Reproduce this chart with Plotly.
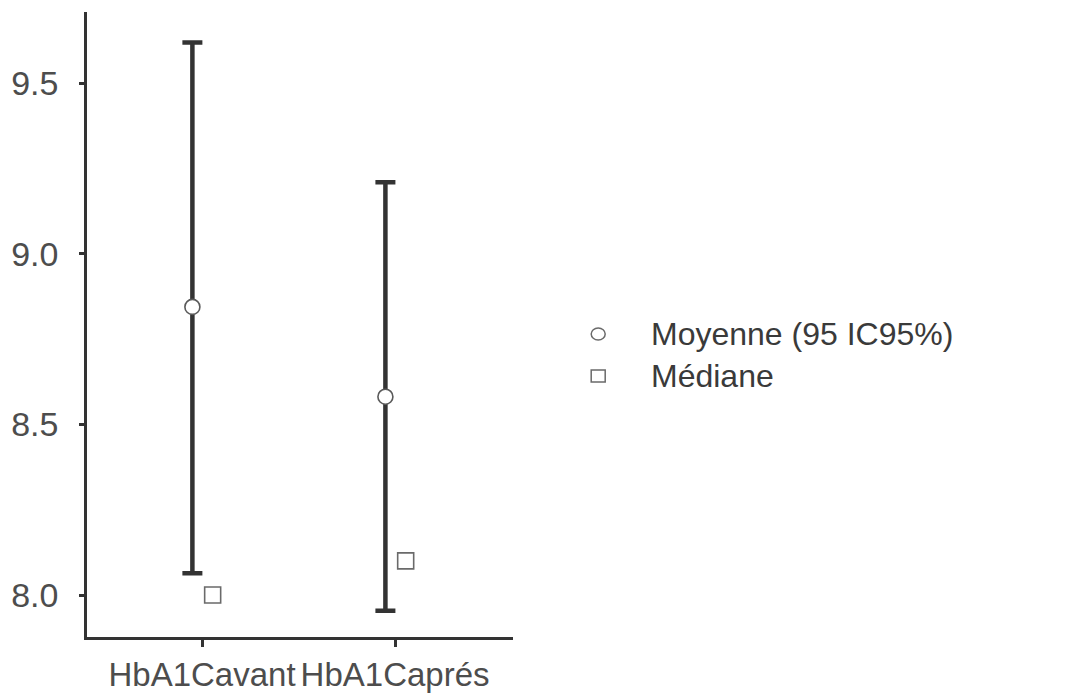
import plotly.graph_objects as go

# HbA1c before / after: mean with 95% CI, and median
categories = ["HbA1Cavant", "HbA1Caprés"]
mean_values = [8.844, 8.581]
ci_upper = [9.619, 9.209]
ci_lower = [8.064, 7.954]
median_values = [8.0, 8.1]
legend_labels = ["Moyenne (95 IC95%)", "Médiane"]
y_ticks = [8.0, 8.5, 9.0, 9.5]

cat_pos = [i + 1 for i in range(len(categories))]
mean_x = [p - 0.05 for p in cat_pos]
median_x = [p + 0.055 for p in cat_pos]

font_family = "Liberation Sans, Arial, sans-serif"
axis_col = "#333333"
text_col = "#4d4d4d"

fig = go.Figure()

fig.add_trace(go.Scatter(
    x=mean_x, y=mean_values, mode="markers", name=legend_labels[0],
    error_y=dict(type="data", symmetric=False,
                 array=[u - m for u, m in zip(ci_upper, mean_values)],
                 arrayminus=[m - l for m, l in zip(mean_values, ci_lower)],
                 color="#333333", thickness=4.5, width=10),
    marker=dict(symbol="circle", size=15, color="white",
                line=dict(color="#5a5a5a", width=1.6)),
    showlegend=False,
))

fig.add_trace(go.Scatter(
    x=median_x, y=median_values, mode="markers", name=legend_labels[1],
    marker=dict(symbol="square", size=16, color="white",
                line=dict(color="#6a6a6a", width=1.6)),
    showlegend=False,
))

# Legend drawn as symbols + text to the right of the plot area
legend_rows = [0.4848, 0.4176]
legend_symbols = ["circle", "rect"]
for label, yy, sym in zip(legend_labels, legend_rows, legend_symbols):
    fig.add_annotation(
        x=1.32, y=yy, xref="paper", yref="paper", xanchor="left",
        yanchor="middle", text=label, showarrow=False,
        font=dict(family=font_family, size=32, color="#3a3a3a"),
    )
    fig.add_shape(
        type=sym, xref="paper", yref="paper",
        xsizemode="pixel", ysizemode="pixel",
        xanchor=1.20, yanchor=yy,
        x0=-7, x1=7, y0=-6, y1=6,
        line=dict(color="#6a6a6a", width=1.5), fillcolor="white",
    )

fig.update_layout(
    width=1078, height=695,
    margin=dict(l=87, r=565, t=12, b=58),
    plot_bgcolor="white", paper_bgcolor="white",
    font=dict(family=font_family, color=text_col),
)

fig.update_xaxes(
    range=[0.404, 2.611], tickvals=cat_pos, ticktext=categories,
    showline=True, linecolor=axis_col, linewidth=2.5,
    ticks="outside", ticklen=7, tickwidth=2.5, tickcolor=axis_col,
    showgrid=False, zeroline=False, automargin=False, tickangle=0,
    tickfont=dict(size=33, color=text_col),
)

fig.update_yaxes(
    range=[7.877, 9.708], tickvals=y_ticks,
    ticktext=[f"{v:.1f}" for v in y_ticks],
    showline=True, linecolor=axis_col, linewidth=2.5,
    ticks="outside", ticklen=5, tickwidth=2.5, tickcolor=axis_col,
    showgrid=False, zeroline=False, ticklabelstandoff=14, automargin=False,
    tickfont=dict(size=34, color=text_col),
)

fig.write_html("out.html")
